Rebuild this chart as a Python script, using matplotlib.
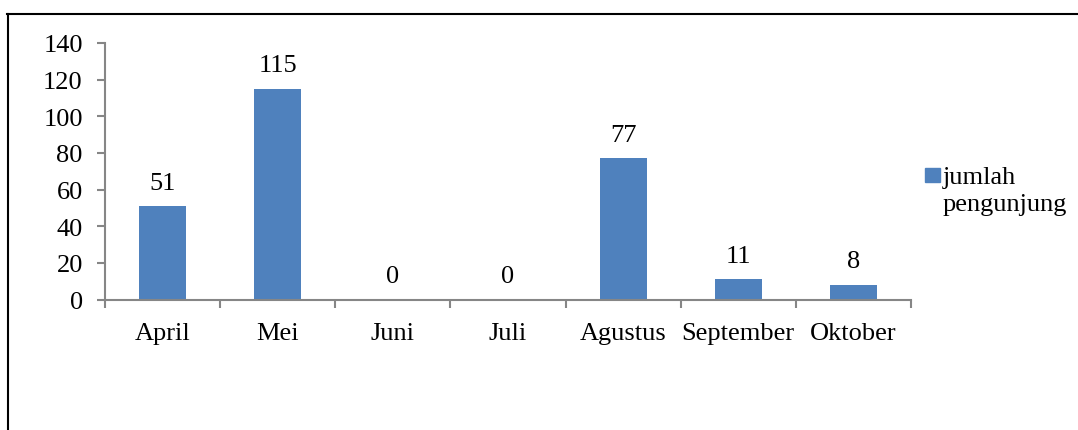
import matplotlib
matplotlib.use('Agg')
import matplotlib.pyplot as plt
from matplotlib.lines import Line2D
from matplotlib.patches import Rectangle

# Data
bulan = ['April', 'Mei', 'Juni', 'Juli', 'Agustus', 'September', 'Oktober']
jumlah = [51, 115, 0, 0, 77, 11, 8]
y_ticks = [0, 20, 40, 60, 80, 100, 120, 140]
legend_label = 'jumlah\npengunjung'

W, H = 1078, 431
plt.rcParams['font.family'] = ['Liberation Serif', 'DejaVu Serif']
plt.rcParams['font.size'] = 19

fig = plt.figure(figsize=(W / 100, H / 100), dpi=100)

# Axes placed in pixel coordinates
x0, x1 = 105, 911
y_top, y_zero = 44, 300.5
ax = fig.add_axes([x0 / W, (H - y_zero) / H, (x1 - x0) / W, (y_zero - y_top) / H])

warna = '#4F81BD'
posisi = list(range(len(bulan)))
bars = ax.bar(posisi, jumlah, width=0.41, color=warna, zorder=2)

for p, v in zip(posisi, jumlah):
    ax.annotate(str(v), (p, v), xytext=(0, 9), textcoords='offset points',
                ha='center', va='bottom', fontsize=19)

ax.set_xlim(-0.5, len(bulan) - 0.5)
ax.set_ylim(0, 140)
ax.set_yticks(y_ticks)
ax.set_xticks(posisi)
ax.set_xticklabels(bulan)
ax.set_xticks([i - 0.5 for i in range(len(bulan) + 1)], minor=True)

grey = '#868686'
for s in ['top', 'right']:
    ax.spines[s].set_visible(False)
for s in ['left', 'bottom']:
    ax.spines[s].set_color(grey)
    ax.spines[s].set_linewidth(1.5)

ax.tick_params(axis='y', direction='out', length=6, width=1.5, color=grey, pad=10)
ax.tick_params(axis='x', which='major', length=0, pad=16)
ax.tick_params(axis='x', which='minor', direction='out', length=6, width=1.5, color=grey)

# Legend drawn by hand so the square sits beside the first line
fig.add_artist(Rectangle((925 / W, (H - 183) / H), 15 / W, 14 / H, color=warna,
                         transform=fig.transFigure))
fig.text(943 / W, (H - 167) / H, legend_label, ha='left', va='top',
         fontsize=19, linespacing=1.28)

# Outer frame (top and left edges visible)
fig.add_artist(Line2D([7 / W, 1.0], [(H - 15) / H, (H - 15) / H], color='black', lw=1.5,
                      transform=fig.transFigure))
fig.add_artist(Line2D([8 / W, 8 / W], [0, (H - 15) / H], color='black', lw=1.5,
                      transform=fig.transFigure))

fig.savefig('out.png', dpi=100)
